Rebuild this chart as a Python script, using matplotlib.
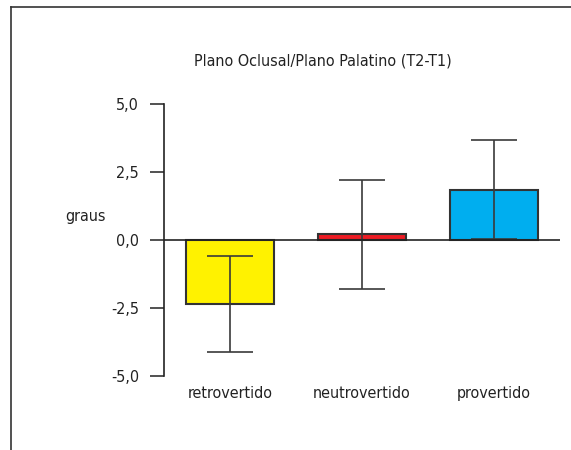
import matplotlib
matplotlib.use("Agg")
import matplotlib.pyplot as plt
from matplotlib.lines import Line2D

plt.rcParams['font.family'] = ['DejaVu Sans']
plt.rcParams['font.stretch'] = 'condensed'
plt.rcParams['text.color'] = '#222222'
plt.rcParams['xtick.color'] = '#222222'
plt.rcParams['ytick.color'] = '#333333'

categories = ["retrovertido", "neutrovertido", "provertido"]
means = [-2.35, 0.21, 1.85]
errors = [1.75, 2.0, 1.83]
colors = ["#FFF200", "#ED1C24", "#00AEEF"]
yticks = [-5.0, -2.5, 0.0, 2.5, 5.0]
ytick_labels = ["-5,0", "-2,5", "0,0", "2,5", "5,0"]
title = "Plano Oclusal/Plano Palatino (T2-T1)"
ylabel = "graus"

W, H = 571, 450
fs = 11.5
fig = plt.figure(figsize=(W / 100, H / 100), dpi=100)
ax = fig.add_axes([164 / W, 1 - 376 / H, (560 - 164) / W, (376 - 104) / H])

x = list(range(len(categories)))
ax.bar(x, means, width=0.66, color=colors, edgecolor="#333333", linewidth=1.5, zorder=2)
ax.errorbar(x, means, yerr=errors, fmt="none", ecolor="#3a3a3a", elinewidth=1.2,
            capsize=16.5, capthick=1.2, zorder=3)
ax.axhline(0, color="#222222", linewidth=1.2, zorder=4)

ax.set_xlim(-0.5, 2.5)
ax.set_ylim(-5, 5)
ax.set_yticks(yticks)
ax.set_yticklabels(ytick_labels, fontsize=fs)
ax.set_xticks(x)
ax.set_xticklabels(categories, fontsize=fs)
ax.tick_params(axis="x", length=0, pad=7, labelcolor="#222222")
ax.tick_params(axis="y", length=10, width=1.2, pad=8, direction="out", labelcolor="#222222")
for s in ["top", "right", "bottom"]:
    ax.spines[s].set_visible(False)
ax.spines["left"].set_linewidth(1.2)
ax.spines["left"].set_color("#222222")

fig.text(323 / W, 1 - 61 / H, title, ha="center", va="center", fontsize=fs)
fig.text(86 / W, 1 - 217 / H, ylabel, ha="center", va="center", fontsize=fs)

fig.add_artist(Line2D([11 / W, 11 / W], [0, 1 - 7 / H], transform=fig.transFigure, color="#333333", linewidth=1.2))
fig.add_artist(Line2D([11 / W, 1], [1 - 7 / H, 1 - 7 / H], transform=fig.transFigure, color="#333333", linewidth=1.2))

fig.savefig("out.png", dpi=100)
